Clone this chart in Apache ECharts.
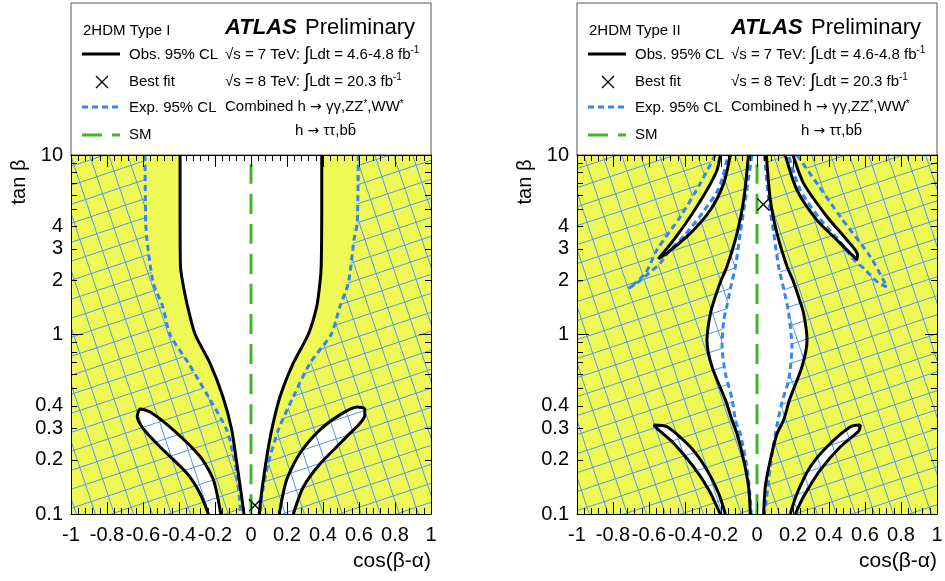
<!DOCTYPE html>
<html><head><meta charset="utf-8">
<script src="https://cdn.jsdelivr.net/npm/echarts@6/dist/echarts.min.js"></script>
<style>html,body{margin:0;padding:0;background:#fff}#c{width:945px;height:581px}</style>
</head><body><div id="c"></div>
<script>
// ---------- axis / tick data ----------
const yLabelValues = [0.1, 0.2, 0.3, 0.4, 1, 2, 3, 4, 10];
const yMajorTicks = [0.1, 1, 10];
const yMinorTicks = [0.2, 0.3, 0.4, 0.5, 0.6, 0.7, 0.8, 0.9, 2, 3, 4, 5, 6, 7, 8, 9];
const panelTitles = ['2HDM Type I', '2HDM Type II'];

// ---------- 2HDM Type I ----------
const t1ObsLeft = [[-0.394,10],[-0.394,5],[-0.392,2.4],[-0.379,1.94],[-0.352,1.43],[-0.31,1.0],[-0.228,0.693],[-0.156,0.45],[-0.107,0.294],[-0.079,0.192],[-0.052,0.125],[-0.039,0.1]];
const t1ObsRight = [[0.393,10],[0.393,5],[0.39,2.4],[0.383,1.94],[0.365,1.43],[0.318,1.0],[0.235,0.693],[0.161,0.45],[0.115,0.294],[0.082,0.192],[0.056,0.125],[0.046,0.1]];
const t1ExpLeft = [[-0.589,10],[-0.585,4.2],[-0.578,3.36],[-0.543,1.94],[-0.49,1.43],[-0.45,1.0],[-0.348,0.693],[-0.237,0.45],[-0.135,0.294],[-0.089,0.192],[-0.065,0.125],[-0.057,0.1]];
const t1ExpRight = [[0.596,10],[0.59,4.2],[0.572,3.36],[0.541,1.94],[0.494,1.43],[0.445,1.0],[0.328,0.693],[0.235,0.45],[0.152,0.294],[0.096,0.192],[0.059,0.125],[0.05,0.1]];
const t1PetalLeft = [[-0.237,0.1],[-0.283,0.13],[-0.357,0.169],[-0.506,0.237],[-0.6,0.3],[-0.632,0.35],[-0.615,0.385],[-0.56,0.37],[-0.432,0.294],[-0.283,0.209],[-0.209,0.155],[-0.168,0.1]];
const t1PetalRight = [[0.157,0.1],[0.198,0.155],[0.272,0.218],[0.383,0.294],[0.5,0.36],[0.59,0.395],[0.632,0.385],[0.632,0.355],[0.532,0.27],[0.383,0.19],[0.29,0.141],[0.235,0.1]];
const t1BestFit = [0.022, 0.112];

// ---------- 2HDM Type II ----------
const t2ObsLeft = [[-0.047,10],[-0.074,5.62],[-0.111,3.66],[-0.167,2.39],[-0.2,2.0],[-0.232,1.62],[-0.259,1.31],[-0.278,0.93],[-0.25,0.662],[-0.175,0.431],[-0.139,0.334],[-0.111,0.28],[-0.074,0.2],[-0.047,0.142],[-0.037,0.1]];
const t2ObsRight = [[0.052,10],[0.074,5.62],[0.111,3.66],[0.167,2.39],[0.2,2.0],[0.231,1.62],[0.259,1.31],[0.278,0.93],[0.25,0.662],[0.18,0.431],[0.148,0.334],[0.111,0.28],[0.074,0.2],[0.046,0.142],[0.037,0.1]];
const t2ExpLeft = [[-0.028,10],[-0.065,5.62],[-0.093,3.66],[-0.12,2.39],[-0.148,1.8],[-0.17,1.4],[-0.185,1.2],[-0.194,0.85],[-0.176,0.61],[-0.139,0.44],[-0.12,0.334],[-0.093,0.28],[-0.056,0.183],[-0.037,0.12],[-0.032,0.1]];
const t2ExpRight = [[0.041,10],[0.065,5.62],[0.093,3.66],[0.12,2.39],[0.148,1.8],[0.176,1.31],[0.194,0.85],[0.176,0.56],[0.139,0.42],[0.102,0.28],[0.074,0.183],[0.052,0.12],[0.042,0.1]];
const t2PetalUL = [[-0.204,10],[-0.222,8.25],[-0.278,6.38],[-0.371,4.53],[-0.463,3.36],[-0.53,2.78],[-0.548,2.64],[-0.5,2.84],[-0.371,3.66],[-0.259,4.94],[-0.185,6.95],[-0.148,10]];
const t2PetalUR = [[0.2,10],[0.259,6.95],[0.389,4.53],[0.5,3.36],[0.558,2.78],[0.556,2.62],[0.52,2.82],[0.444,3.36],[0.333,4.34],[0.222,6.38],[0.157,10]];
const t2PetalLL = [[-0.204,0.1],[-0.269,0.137],[-0.352,0.183],[-0.463,0.248],[-0.556,0.3],[-0.574,0.313],[-0.5,0.306],[-0.371,0.237],[-0.278,0.176],[-0.213,0.13],[-0.176,0.1]];
const t2PetalLR = [[0.185,0.1],[0.222,0.13],[0.296,0.183],[0.389,0.237],[0.519,0.306],[0.574,0.313],[0.565,0.29],[0.463,0.237],[0.352,0.176],[0.259,0.125],[0.213,0.1]];
const t2ExpLoopL = [[-0.232,10],[-0.315,6.95],[-0.426,4.53],[-0.556,2.96],[-0.62,2.19],[-0.713,1.81],[-0.667,1.93],[-0.6,2.2],[-0.537,2.5],[-0.49,2.9],[-0.4,3.6],[-0.3,4.8],[-0.21,6.6],[-0.16,10]];
const t2ExpLoopR = [[0.222,10],[0.333,6.95],[0.463,4.53],[0.63,2.71],[0.722,1.84],[0.676,1.93],[0.6,2.3],[0.54,2.6],[0.46,3.3],[0.35,4.4],[0.24,6.4],[0.175,10]];
const t2BestFit = [0.035, 5.3];
const smLine = [[0, 0.1], [0, 10]];

// ---------- styles ----------
const FONT = "'Liberation Sans', Arial, Helvetica, sans-serif";
const SYMFONT = "'DejaVu Sans', sans-serif";
const YELLOW = '#eff955';
const HATCH = '#5597ee';
const BLUE = '#3384f5';
const GREEN = '#46b32c';
const GRIDS = [{left: 71, top: 155, width: 360, height: 359}, {left: 577, top: 155, width: 360, height: 359}];

function makeHatch() {
  const S = 57, d = 19;
  const c = document.createElement('canvas');
  c.width = S; c.height = S;
  const g = c.getContext('2d');
  g.strokeStyle = HATCH; g.lineWidth = 1;
  g.beginPath();
  for (let k = -3; k <= 6; k++) { const c0 = k * d; g.moveTo(0, c0); g.lineTo(S, c0 - S / 3); }
  for (let k = -3; k <= 6; k++) { const c0 = k * d; g.moveTo(c0, 0); g.lineTo(c0 + S / 3, S); }
  g.stroke();
  return c;
}
const hatchFill = {image: makeHatch(), repeat: 'repeat'};

const rev = a => a.slice().reverse();

function polygonSeries(pts, gi, fill, z) {
  return {
    type: 'custom', xAxisIndex: gi * 2, yAxisIndex: gi * 4, z: z, silent: true, clip: true,
    data: pts,
    renderItem: function (params, api) {
      if (params.dataIndex !== 0) return null;
      return {type: 'polygon', shape: {points: pts.map(p => api.coord(p))}, style: {fill: fill, stroke: null}};
    }
  };
}
function lineSeries(pts, gi, color, type, z) {
  return {
    type: 'line', xAxisIndex: gi * 2, yAxisIndex: gi * 4, z: z, silent: true,
    data: pts, showSymbol: false, symbol: 'none', smooth: 0.25, animation: false,
    lineStyle: {color: color, width: 3, type: type}
  };
}
function crossSeries(pt, gi) {
  return {
    type: 'custom', xAxisIndex: gi * 2, yAxisIndex: gi * 4, z: 8, silent: true,
    data: [pt],
    renderItem: function (params, api) {
      const c = api.coord([api.value(0), api.value(1)]);
      const s = 6;
      return {type: 'group', children: [
        {type: 'line', shape: {x1: c[0] - s, y1: c[1] - s, x2: c[0] + s, y2: c[1] + s}, style: {stroke: '#000', lineWidth: 1.3}},
        {type: 'line', shape: {x1: c[0] - s, y1: c[1] + s, x2: c[0] + s, y2: c[1] - s}, style: {stroke: '#000', lineWidth: 1.3}}
      ]};
    }
  };
}

const AX = {color: '#000', width: 1};
function xAxes(gi) {
  const base = {type: 'value', gridIndex: gi, min: -1, max: 1, interval: 0.2, z: 10,
    axisLine: {show: true, onZero: false, lineStyle: AX},
    axisTick: {show: true, inside: true, length: 12, lineStyle: AX},
    minorTick: {show: true, splitNumber: 5, length: 6, lineStyle: AX},
    splitLine: {show: false}};
  return [
    Object.assign({}, base, {position: 'bottom', axisLabel: {show: true, margin: 11, color: '#000', fontSize: 20, fontFamily: FONT, hideOverlap: false, showMinLabel: true, showMaxLabel: true}}),
    Object.assign({}, base, {position: 'top', axisLabel: {show: false}})
  ];
}
function yAxes(gi) {
  const base = {type: 'log', logBase: 10, gridIndex: gi, min: 0.1, max: 10, z: 10,
    splitLine: {show: false}, minorTick: {show: false}, offset: 0};
  return [
    Object.assign({}, base, {position: 'left', axisLine: {show: true, onZero: false, lineStyle: AX},
      axisTick: {show: true, inside: true, length: 12, customValues: yMajorTicks, lineStyle: AX},
      axisLabel: {show: true, customValues: yLabelValues, margin: 8, color: '#000', fontSize: 20, fontFamily: FONT, hideOverlap: false}}),
    Object.assign({}, base, {position: 'left', axisLine: {show: false, onZero: false},
      axisTick: {show: true, inside: true, length: 6, customValues: yMinorTicks, lineStyle: AX}, axisLabel: {show: false}}),
    Object.assign({}, base, {position: 'right', axisLine: {show: true, onZero: false, lineStyle: AX},
      axisTick: {show: true, inside: true, length: 12, customValues: yMajorTicks, lineStyle: AX}, axisLabel: {show: false}}),
    Object.assign({}, base, {position: 'right', axisLine: {show: false, onZero: false},
      axisTick: {show: true, inside: true, length: 6, customValues: yMinorTicks, lineStyle: AX}, axisLabel: {show: false}})
  ];
}

// ---------- series ----------
const series = [];
// Type I (grid 0)
series.push(polygonSeries(t1ObsLeft.concat(rev(t1ObsRight)), 0, '#fff', 1));
series.push(polygonSeries(t1PetalLeft, 0, '#fff', 1));
series.push(polygonSeries(t1PetalRight, 0, '#fff', 1));
series.push(polygonSeries([[-1, 10]].concat(t1ExpLeft, [[-1, 0.1]]), 0, hatchFill, 2));
series.push(polygonSeries([[1, 10]].concat(t1ExpRight, [[1, 0.1]]), 0, hatchFill, 2));
[t1ExpLeft, t1ExpRight].forEach(p => series.push(lineSeries(p, 0, BLUE, [6, 4], 4)));
[t1ObsLeft, t1ObsRight, t1PetalLeft, t1PetalRight].forEach(p => series.push(lineSeries(p, 0, '#000', 'solid', 5)));
series.push(lineSeries(smLine, 0, GREEN, [20, 10], 6));
series.push(crossSeries(t1BestFit, 0));
// Type II (grid 1)
series.push(polygonSeries(t2ObsLeft.concat(rev(t2ObsRight)), 1, '#fff', 1));
[t2PetalUL, t2PetalUR, t2PetalLL, t2PetalLR].forEach(p => series.push(polygonSeries(p, 1, '#fff', 1)));
series.push(polygonSeries([[-1, 10]].concat(t2ExpLoopL, t2ExpLeft, [[-1, 0.1]]), 1, hatchFill, 2));
series.push(polygonSeries([[1, 10]].concat(t2ExpLoopR, t2ExpRight, [[1, 0.1]]), 1, hatchFill, 2));
[t2ExpLeft, t2ExpRight, t2ExpLoopL, t2ExpLoopR].forEach(p => series.push(lineSeries(p, 1, BLUE, [6, 4], 4)));
[t2ObsLeft, t2ObsRight, t2PetalUL, t2PetalUR, t2PetalLL, t2PetalLR].forEach(p => series.push(lineSeries(p, 1, '#000', 'solid', 5)));
series.push(lineSeries(smLine, 1, GREEN, [20, 10], 6));
series.push(crossSeries(t2BestFit, 1));

// ---------- legend boxes & titles (graphic) ----------
function txt(text, x, y, size, extra) {
  return Object.assign({type: 'text', silent: true, x: x, y: y,
    style: {text: text, fill: '#000', font: size + 'px ' + FONT, align: 'left', verticalAlign: 'middle'}}, extra || {});
}
function rich(text, x, y) {
  return {type: 'text', silent: true, x: x, y: y, style: {text: text, fill: '#000', align: 'left', verticalAlign: 'middle',
    font: '15px ' + FONT,
    rich: {n: {fontSize: 15, fontFamily: FONT, fill: '#000'},
           s: {fontSize: 10, fontFamily: FONT, fill: '#000', verticalAlign: 'top'},
           a: {fontSize: 14, fontFamily: SYMFONT, fill: '#000'},
           i: {fontSize: 19, fontFamily: FONT, fill: '#000'}}}};
}
const graphics = [];
[0, 1].forEach(function (pi) {
  const ox = pi * 506;
  graphics.push({type: 'rect', silent: true, shape: {x: 71 + ox, y: 3, width: 360, height: 152}, style: {fill: '#fff', stroke: '#555', lineWidth: 1}});
  graphics.push(txt(panelTitles[pi], 83 + ox, 31, 15));
  graphics.push(txt('ATLAS', 225 + ox, 28, 22, {style: {text: 'ATLAS', fill: '#000', font: 'italic bold 22px ' + FONT, align: 'left', verticalAlign: 'middle'}}));
  graphics.push(txt('Preliminary', 305 + ox, 28, 22));
  graphics.push({type: 'line', silent: true, shape: {x1: 82 + ox, y1: 54, x2: 120 + ox, y2: 54}, style: {stroke: '#000', lineWidth: 3}});
  graphics.push(txt('Obs. 95% CL', 129 + ox, 55, 15));
  graphics.push({type: 'line', silent: true, shape: {x1: 96 + ox, y1: 76, x2: 108 + ox, y2: 88}, style: {stroke: '#000', lineWidth: 1.3}});
  graphics.push({type: 'line', silent: true, shape: {x1: 96 + ox, y1: 88, x2: 108 + ox, y2: 76}, style: {stroke: '#000', lineWidth: 1.3}});
  graphics.push(txt('Best fit', 129 + ox, 82, 15));
  graphics.push({type: 'line', silent: true, shape: {x1: 82 + ox, y1: 107, x2: 120 + ox, y2: 107}, style: {stroke: BLUE, lineWidth: 3, lineDash: [6, 4]}});
  graphics.push(txt('Exp. 95% CL', 129 + ox, 108, 15));
  graphics.push({type: 'line', silent: true, shape: {x1: 82 + ox, y1: 135, x2: 120 + ox, y2: 135}, style: {stroke: GREEN, lineWidth: 3, lineDash: [20, 10]}});
  graphics.push(txt('SM', 129 + ox, 135, 15));
  graphics.push(rich('{n|√s = 7 TeV: }{i|∫}{n|Ldt = 4.6-4.8 fb}{s|-1}', 225 + ox, 55));
  graphics.push(rich('{n|√s = 8 TeV: }{i|∫}{n|Ldt = 20.3 fb}{s|-1}', 225 + ox, 82));
  graphics.push(rich('{n|Combined h }{a|→}{n| γγ,ZZ}{s|*}{n|,WW}{s|*}', 225 + ox, 107));
  graphics.push(rich('{n|h }{a|→}{n| ττ,bb̄}', 295 + ox, 131));
  graphics.push(txt('tan β', 19 + ox, 182, 20, {rotation: Math.PI / 2, style: {text: 'tan β', fill: '#000', font: '20px ' + FONT, align: 'center', verticalAlign: 'middle'}}));
  graphics.push(txt('cos(β-α)', 431 + ox, 561, 21, {style: {text: 'cos(β-α)', fill: '#000', font: '21px ' + FONT, align: 'right', verticalAlign: 'middle'}}));
});

const chart = echarts.init(document.getElementById('c'), null, {renderer: 'canvas'});
chart.setOption({
  animation: false,
  backgroundColor: '#fff',
  grid: GRIDS.map(g => Object.assign({show: true, backgroundColor: YELLOW, borderWidth: 0, containLabel: false, outerBoundsMode: 'none'}, g)),
  xAxis: xAxes(0).concat(xAxes(1)),
  yAxis: yAxes(0).concat(yAxes(1)),
  series: series,
  graphic: graphics
});
</script>
</body></html>
